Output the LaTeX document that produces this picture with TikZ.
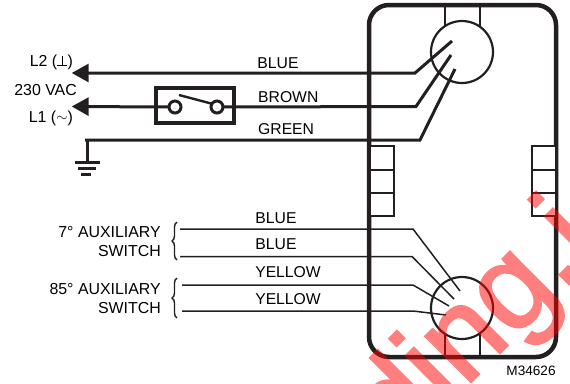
\documentclass[tikz,border=0pt]{standalone}
\usepackage{fontspec}
\setmainfont{Liberation Sans}
\newfontfamily\stampfont[FakeBold=2]{Liberation Sans}
\usepackage{tikz}
\usetikzlibrary{positioning,arrows.meta,calc,decorations.pathreplacing}
\tikzset{
    wirelabel/.style={inner sep=0pt,font=\fontsize{15.7}{16}\selectfont},
    sidelabel/.style={inner sep=0pt,anchor=east,font=\fontsize{15.9}{16}\selectfont},
    wire/.style={line width=3pt,draw=wireink},
    thinwire/.style={line width=1.5pt,draw=wireink},
    feed/.style={wire,-{Triangle[length=17pt,width=18pt]}},
    terminal/.style={circle,draw=wireink,fill=white,line width=3pt,minimum size=12pt,inner sep=0pt,outer sep=0pt},
    block/.style={rectangle,draw=wireink,fill=white,line width=2pt,minimum width=24pt,minimum height=23.3pt,inner sep=0pt,outer sep=0pt},
    socket/.style={rectangle,draw=wireink,line width=2pt,minimum width=35pt,minimum height=30pt,inner sep=0pt,outer sep=0pt},
    plug/.style={circle,draw=wireink,fill=white,line width=2.2pt,minimum size=62pt,inner sep=0pt,outer sep=0pt},
    curly/.style={draw=wireink,line width=1.4pt,decorate,decoration={brace,amplitude=5pt}},
    stamp/.style={inner sep=0pt,anchor=base west,rotate=45,text=red,font=\stampfont\fontsize{122}{122}\selectfont},
}
\definecolor{wireink}{HTML}{231F20}
\begin{document}
\begin{tikzpicture}[x=1pt,y=-1pt]
\useasboundingbox (0,0) rectangle (570,383);

% housing
\node[minimum width=187pt,minimum height=352pt,draw=wireink,line width=4.5pt,rounded corners=20pt,inner sep=0pt] (housing) at (462.5,181) {};
\node[socket] (topsocket) at (462.5,20) {};
\node[socket] (botsocket) at (462.5,342) {};
\node[plug] (topplug) at (462,52) {};
\node[plug] (botplug) at (462,308) {};

% terminal blocks
\node[block] (la) at (381.5,158) {};
\node[block,below=0pt of la] (lb) {};
\node[block,below=0pt of lb] (lc) {};
\node[block] (ra) at (544,158) {};
\node[block,below=0pt of ra] (rb) {};
\node[block,below=0pt of rb] (rc) {};

% line side
\node[inner sep=0pt] (l2tip) at (71,73) {};
\node[inner sep=0pt] (l1tip) at (71,106.5) {};
\node[sidelabel] (l2) at (73,62) {L2 (\rule[0pt]{10pt}{1.5pt}\kern-5.8pt\rule[0pt]{1.5pt}{10pt}\kern4.5pt)};
\node[sidelabel] (vac) at (77,90) {230 VAC};
\node[sidelabel] (l1) at (73,118) {L1 (\raisebox{1pt}{\Large$\sim$})};

% switch
\node[draw=wireink,line width=4.5pt,fill=white,minimum width=78pt,minimum height=35pt,inner sep=0pt,outer sep=0pt] (switch) at (195,105.5) {};
\node[terminal] (swa) at (175,107) {};
\node[terminal] (swb) at (217,107) {};
\coordinate (bladea) at (179,95);
\coordinate (bladeb) at (213,104);
\draw[wire,line width=2.4pt] (bladea) -- (bladeb);

% mains wires
\coordinate (bluebend) at (415,73);
\coordinate (blueend) at (452,41);
\coordinate (brownbend) at (416,106.5);
\coordinate (brownend) at (451,55);
\coordinate (greenstart) at (85,140);
\coordinate (greenbend) at (420,140);
\coordinate (greenend) at (455,69);
\draw[feed] (blueend) -- (bluebend) -- (l2tip);
\draw[wire] (brownend) -- (brownbend) -- (swb.east);
\draw[feed] (swa.west) -- (l1tip);
\draw[wire] (greenend) -- (greenbend) -- (greenstart);

% ground
\coordinate (gnd) at (87,162);
\draw[wire] (87,140) -- (gnd);
\node[minimum width=25pt,minimum height=3pt,fill=wireink,inner sep=0pt] (gnda) at (gnd) {};
\node[minimum width=18pt,minimum height=3pt,fill=wireink,inner sep=0pt] (gndb) at (87,168) {};
\node[minimum width=10pt,minimum height=3pt,fill=wireink,inner sep=0pt] (gndc) at (86,174) {};

\node[wirelabel] (blue) at (278,63) {BLUE};
\node[wirelabel,anchor=west] (brown) at (258,97) {BROWN};
\node[wirelabel,anchor=west] (green) at (258,129) {GREEN};

% auxiliary switches
\node[sidelabel] (seven) at (161,232) {7° AUXILIARY};
\node[sidelabel] (sevensw) at (161,251) {SWITCH};
\node[sidelabel] (eightfive) at (161,289) {85° AUXILIARY};
\node[sidelabel] (eightfivesw) at (161,308) {SWITCH};
\coordinate (bracea) at (177,222);
\coordinate (braceb) at (177,260);
\coordinate (bracec) at (177,278);
\coordinate (braced) at (177,318);
\draw[curly] (braceb) -- (bracea);
\draw[curly] (braced) -- (bracec);

\draw[thinwire] (180,229) -- (413,229) -- (460,291);
\draw[thinwire] (180,256.5) -- (412,256.5) -- (454,299);
\draw[thinwire] (182,285) -- (413,285) -- (449,306);
\draw[thinwire] (182,311) -- (413,311) -- (446,315);

\node[wirelabel] (bluea) at (276,218) {BLUE};
\node[wirelabel] (blueb) at (276,244) {BLUE};
\node[wirelabel] (yellowa) at (288,272) {YELLOW};
\node[wirelabel] (yellowb) at (288,299) {YELLOW};

\node[inner sep=0pt,font=\fontsize{13.6}{14}\selectfont] (code) at (531,371) {M34626};

% overprint
\begin{scope}[transparency group,opacity=0.5]
\clip (0,0) rectangle (570,383);
\node[stamp] (overprint) at (398,455) {ding.i};
\end{scope}
\end{tikzpicture}
\end{document}
